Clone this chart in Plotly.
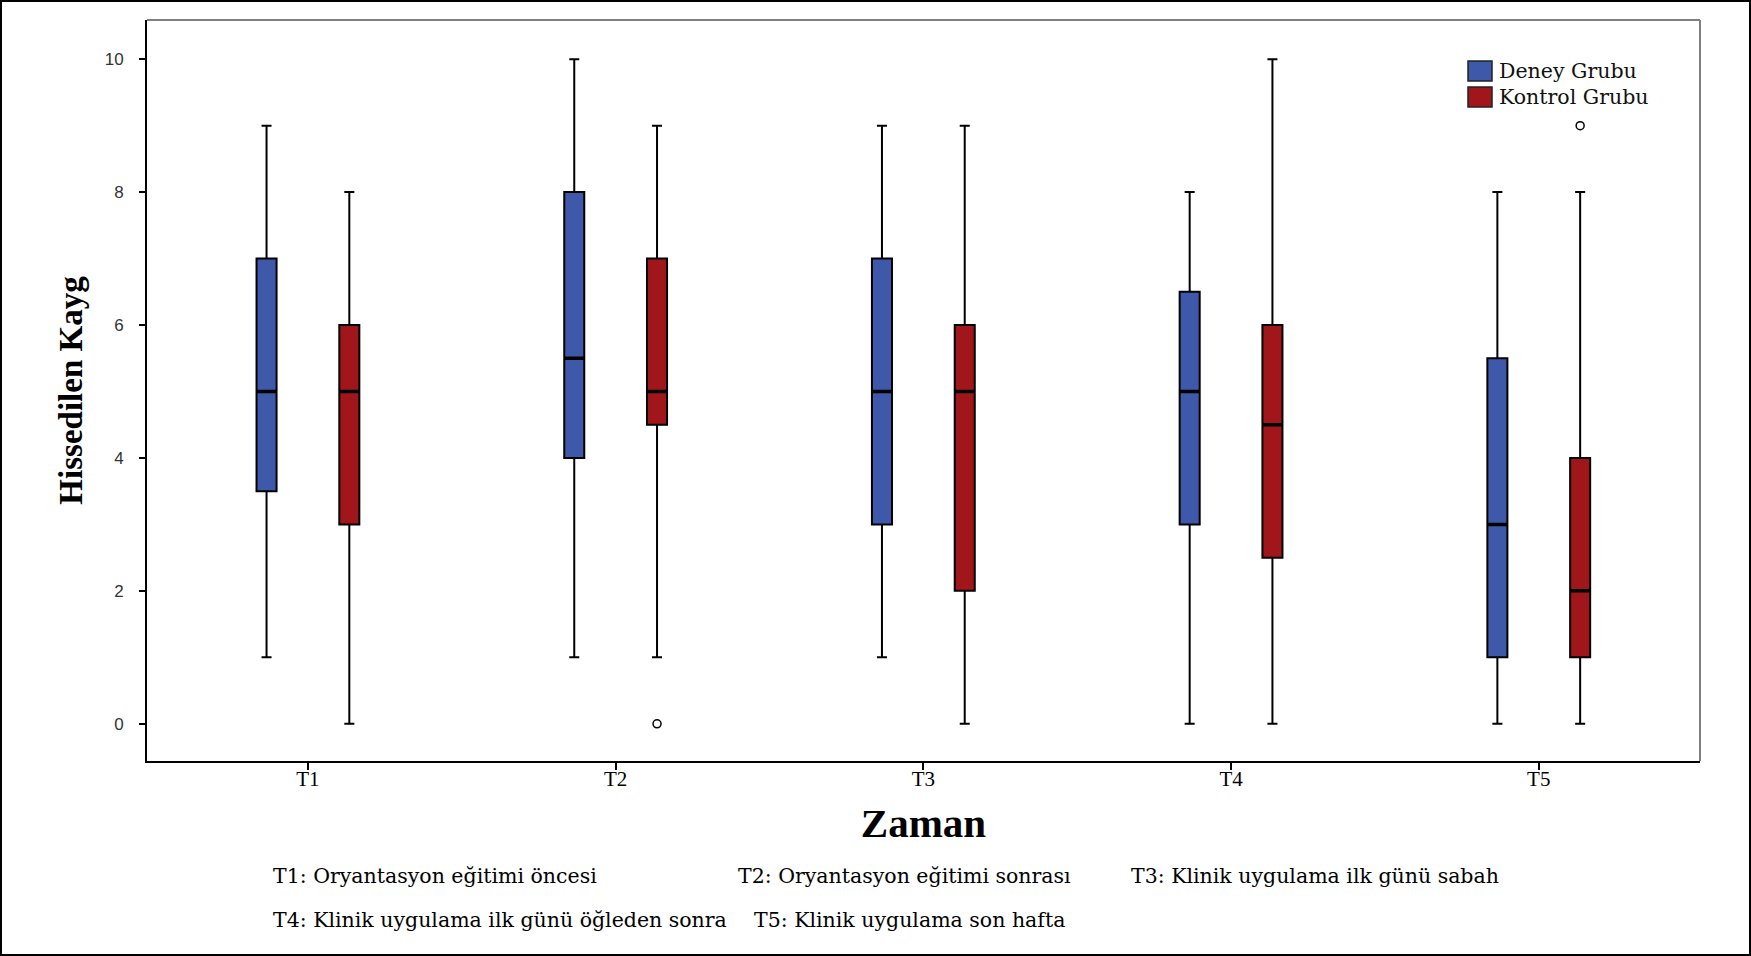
import plotly.graph_objects as go

# ---- data ----
categories = ["T1", "T2", "T3", "T4", "T5"]
groups = ["Deney Grubu", "Kontrol Grubu"]

deney_lower = [1, 1, 1, 0, 0]
deney_q1 = [3.5, 4, 3, 3, 1]
deney_median = [5, 5.5, 5, 5, 3]
deney_q3 = [7, 8, 7, 6.5, 5.5]
deney_upper = [9, 10, 9, 8, 8]

kontrol_lower = [0, 1, 0, 0, 0]
kontrol_q1 = [3, 4.5, 2, 2.5, 1]
kontrol_median = [5, 5, 5, 4.5, 2]
kontrol_q3 = [6, 7, 6, 6, 4]
kontrol_upper = [8, 9, 9, 10, 8]

kontrol_outlier_cat = ["T2", "T5"]
kontrol_outlier_val = [0, 9]

notes_row1 = ["T1: Oryantasyon eğitimi öncesi", "T2: Oryantasyon eğitimi sonrası",
              "T3: Klinik uygulama ilk günü sabah"]
notes_row2 = ["T4: Klinik uygulama ilk günü öğleden sonra", "T5: Klinik uygulama son hafta"]

# ---- style ----
W, H = 1751, 956
L, R, T, B = 147, 51, 20, 195
PW, PH = W - L - R, H - T - B
BLUE = "#3E58AA"
RED = "#A0161B"
BOXGAP = 0.462
BOXGROUPGAP = 0.758
SERIF = "Liberation Serif, Times New Roman, serif"
SLAB = "DejaVu Serif, serif"


def px_x(p):
    return (p - L) / PW


def px_y(p):
    return 1 - (p - T) / PH


xpos = list(range(len(categories)))

fig = go.Figure()
for key, name, lo, q1, med, q3, up, col in [
    ("d", groups[0], deney_lower, deney_q1, deney_median, deney_q3, deney_upper, BLUE),
    ("k", groups[1], kontrol_lower, kontrol_q1, kontrol_median, kontrol_q3, kontrol_upper, RED),
]:
    fig.add_trace(go.Box(
        name=name, x=xpos, q1=q1, median=med, q3=q3,
        lowerfence=lo, upperfence=up, offsetgroup=key,
        fillcolor=col, line=dict(color="black", width=2),
        whiskerwidth=0.5, boxpoints=False, showlegend=False,
        hoverinfo="skip",
    ))
    # thicker median bar drawn over the box
    fig.add_trace(go.Box(
        name=name + " median", x=xpos, q1=med, median=med, q3=med,
        lowerfence=med, upperfence=med, offsetgroup=key,
        fillcolor="rgba(0,0,0,0)", line=dict(color="black", width=3.5),
        whiskerwidth=0, boxpoints=False, showlegend=False,
        hoverinfo="skip",
    ))

# outliers for the second (Kontrol) group, positioned at that group's offset
group_offset = 0.25 * (1 - BOXGAP)
fig.add_trace(go.Scatter(
    x=[categories.index(c) + group_offset for c in kontrol_outlier_cat],
    y=kontrol_outlier_val, mode="markers",
    marker=dict(symbol="circle-open", size=8, color="black", line=dict(width=1.5)),
    showlegend=False, hoverinfo="skip",
))

shapes = []
# grey top/right frame of plot area
shapes.append(dict(type="line", xref="paper", yref="paper", x0=0, x1=1, y0=1, y1=1,
                   line=dict(color="#808080", width=2)))
shapes.append(dict(type="line", xref="paper", yref="paper", x0=1, x1=1, y0=0, y1=1,
                   line=dict(color="#808080", width=2)))
# outer image frame
shapes.append(dict(type="rect", xref="paper", yref="paper",
                   x0=px_x(1), x1=px_x(W - 1), y0=px_y(H - 1), y1=px_y(1),
                   line=dict(color="black", width=2)))

annotations = []
# manual legend
for i, (name, col) in enumerate(zip(groups, [BLUE, RED])):
    cy = 71 + 26 * i
    shapes.append(dict(type="rect", xref="paper", yref="paper",
                       x0=px_x(1468), x1=px_x(1492), y0=px_y(cy + 10), y1=px_y(cy - 10),
                       fillcolor=col, line=dict(color="#222222", width=1.5)))
    annotations.append(dict(xref="paper", yref="paper", x=px_x(1497), y=px_y(cy),
                            text=name, showarrow=False, xanchor="left", yanchor="middle",
                            font=dict(family=SLAB, size=20.5, color="#111111")))

# notes below
for txt, xs in zip(notes_row1, [271, 736, 1129]):
    annotations.append(dict(xref="paper", yref="paper", x=px_x(xs), y=px_y(876),
                            text=txt, showarrow=False, xanchor="left", yanchor="middle",
                            font=dict(family=SLAB, size=20.5, color="black")))
for txt, xs in zip(notes_row2, [271, 752]):
    annotations.append(dict(xref="paper", yref="paper", x=px_x(xs), y=px_y(920),
                            text=txt, showarrow=False, xanchor="left", yanchor="middle",
                            font=dict(family=SLAB, size=20.5, color="black")))

fig.update_layout(
    width=W, height=H,
    margin=dict(l=L, r=R, t=T, b=B),
    paper_bgcolor="white", plot_bgcolor="white",
    boxmode="group", boxgap=BOXGAP, boxgroupgap=BOXGROUPGAP,
    shapes=shapes, annotations=annotations,
    xaxis=dict(
        range=[-0.523, 4.524], tickmode="array", tickvals=xpos, ticktext=categories,
        showline=True, linecolor="black", linewidth=2, ticks="outside", ticklen=7,
        tickcolor="black", tickwidth=1.5, showgrid=False, zeroline=False,
        ticklabelstandoff=-9,
        tickfont=dict(family=SERIF, size=21, color="black"),
        title=dict(text="<b>Zaman</b>", font=dict(family=SERIF, size=41, color="black"),
                   standoff=18),
    ),
    yaxis=dict(
        range=[-0.56, 10.59], tickvals=[0, 2, 4, 6, 8, 10],
        showline=True, linecolor="black", linewidth=2, ticks="outside", ticklen=6,
        tickcolor="black", tickwidth=1.5, showgrid=False, zeroline=False,
        ticklabelstandoff=12,
        tickfont=dict(family="Liberation Sans, Arial, sans-serif", size=17, color="#333333"),
        title=dict(text="<b>Hissedilen Kayg</b>", font=dict(family=SERIF, size=33, color="black"),
                   standoff=12),
    ),
)

fig.write_html("out.html", config={"displayModeBar": False},
               post_script="document.body.style.margin='0';")
